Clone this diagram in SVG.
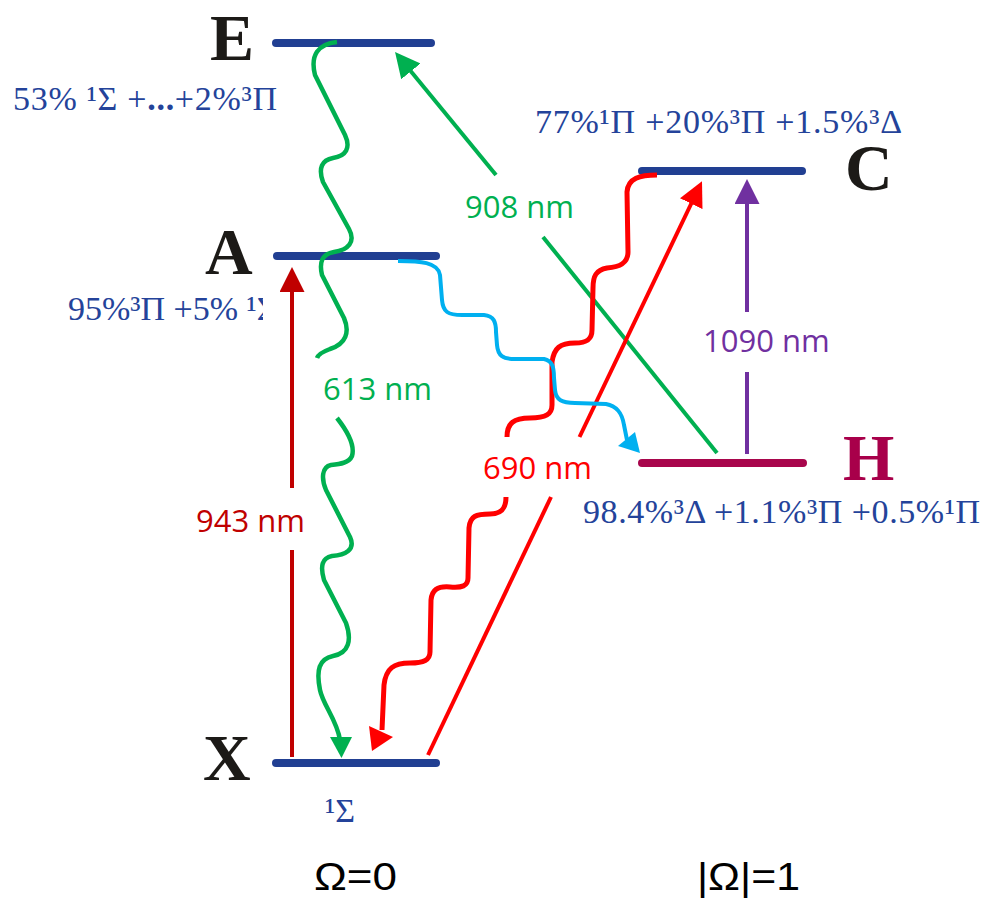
<svg xmlns="http://www.w3.org/2000/svg" width="988" height="902" viewBox="0 0 988 902">
<style>
.lvl{stroke:#213f92;stroke-width:8;stroke-linecap:round;fill:none}
.lvlH{stroke:#a8064c;stroke-width:8;stroke-linecap:round;fill:none}
.big{font-family:"Liberation Serif","Times New Roman",serif;font-weight:bold;font-size:66px;fill:#1c1a17}
.comp{font-family:"Liberation Serif","Times New Roman",serif;font-size:34px;fill:#24439a}
.lab{font-family:"Open Sans","Noto Sans",sans-serif;font-size:31px}
.om{font-family:"Liberation Sans",Arial,sans-serif;font-size:38px;fill:#000}
.w{fill:none;stroke-linecap:butt;stroke-linejoin:round}
.g{stroke:#00b050}.r{stroke:#ff0000}.dr{stroke:#c00000}.p{stroke:#7030a0}.b{stroke:#00b0f0}
</style>
<defs>
<clipPath id="clipA"><rect x="0" y="280" width="263" height="60"/></clipPath>
<marker id="mDR" markerUnits="userSpaceOnUse" markerWidth="26" markerHeight="26" refX="3" refY="12.5" orient="auto"><path d="M0,0 L25,12.5 L0,25 z" fill="#c00000"/></marker>
<marker id="mP" markerUnits="userSpaceOnUse" markerWidth="26" markerHeight="26" refX="3" refY="12.5" orient="auto"><path d="M0,0 L25,12.5 L0,25 z" fill="#7030a0"/></marker>
<marker id="mG" markerUnits="userSpaceOnUse" markerWidth="26" markerHeight="26" refX="3" refY="12.5" orient="auto"><path d="M0,0 L25,12.5 L0,25 z" fill="#00b050"/></marker>
<marker id="mR" markerUnits="userSpaceOnUse" markerWidth="26" markerHeight="26" refX="3" refY="12.5" orient="auto"><path d="M0,0 L25,12.5 L0,25 z" fill="#ff0000"/></marker>
</defs>
<rect width="988" height="902" fill="#fff"/>

<g id="level-E">
<line class="lvl" x1="276" y1="43" x2="431" y2="43"/>
<text class="big" x="210" y="60">E</text>
<text class="comp" x="13" y="110" textLength="264" lengthAdjust="spacing">53% ¹Σ +<tspan font-weight="bold">...</tspan>+2%³Π</text>
</g>
<g id="level-A">
<line class="lvl" x1="277" y1="256" x2="436" y2="256"/>
<text class="big" x="205" y="274">A</text>
<text class="comp" x="68" y="320" clip-path="url(#clipA)">95%³Π +5% ¹Σ</text>
</g>
<g id="level-X">
<line class="lvl" x1="276" y1="763" x2="436" y2="763"/>
<text class="big" x="203" y="780">X</text>
<text class="comp" x="325" y="822">¹Σ</text>
</g>
<g id="level-C">
<line class="lvl" x1="642" y1="171" x2="802" y2="171"/>
<text class="big" x="845" y="190">C</text>
<text class="comp" x="535" y="133" textLength="367" lengthAdjust="spacing">77%¹Π +20%³Π +1.5%³Δ</text>
</g>
<g id="level-H">
<line class="lvlH" x1="642" y1="463" x2="803" y2="463"/>
<text class="big" x="843" y="480" style="fill:#a8004a">H</text>
<text class="comp" x="583" y="523" textLength="397" lengthAdjust="spacing">98.4%³Δ +1.1%³Π +0.5%¹Π</text>
</g>

<g id="connectors">
<line class="w dr" stroke-width="4" x1="292" y1="757" x2="292" y2="550"/>
<line class="w dr" stroke-width="4" x1="292" y1="488" x2="292" y2="289" marker-end="url(#mDR)"/>
<text class="lab" x="196" y="532" fill="#c00000">943 nm</text>

<line class="w p" stroke-width="4" x1="747" y1="454" x2="747" y2="372"/>
<line class="w p" stroke-width="4" x1="747" y1="312" x2="747" y2="201" marker-end="url(#mP)"/>
<text class="lab" x="703" y="352" fill="#7030a0">1090 nm</text>

<line class="w g" stroke-width="4" x1="717" y1="453" x2="543" y2="237"/>
<line class="w g" stroke-width="4" x1="496" y1="175" x2="409" y2="69" marker-end="url(#mG)"/>
<text class="lab" x="465" y="218" fill="#00b050">908 nm</text>

<line class="w r" stroke-width="4" x1="428" y1="755" x2="551" y2="497"/>
<line class="w r" stroke-width="4" x1="579.5" y1="437" x2="692.5" y2="201" marker-end="url(#mR)"/>
<text class="lab" x="483" y="479" fill="#ff0000">690 nm</text>

<path class="w g" stroke-width="4.5" d="M337,42 C318,44 310,55 315,75 L345,135 C351,148 346,156 333,158 C322,160 318,168 323,182 L349,229 C356,242 348,250 334,252 C322,254 319,262 322,275 L344,318 C350,332 346,344 330,349 C322,352 318,355 317,358"/>
<path class="w g" stroke-width="4.5" d="M337,418 C348,432 355,446 352,456 C349,463 340,464 331,465 C322,467 321,478 326,490 L350,537 C356,550 345,555 332,556 C322,558 320,566 324,580 L346,623 C352,640 349,653 333,656 C319,659 316,670 320,690 C323,705 337,720 340,740"/>
<polygon points="330,737 352,737 341.5,758" fill="#00b050"/>
<text class="lab" x="323" y="400" fill="#00b050">613 nm</text>

<path class="w r" stroke-width="5" d="M657,175 C640,175 628,178 627,192 L628,252 C628,263 620,267 607,268 C596,270 593,276 593,288 L592,330 C592,340 586,343 575,343 C560,343 554,348 552,362 L552,405 C552,414 546,418 530,418 C514,418 507,423 507,437"/>
<path class="w r" stroke-width="5" d="M506,497 C506,510 500,514 490,514 C476,514 470,516 469,528 L468,578 C468,586 462,588 450,587 C437,586 432,590 431,600 L430,652 C430,660 424,663 410,663 C394,663 386,668 384,685 L382,730"/>
<polygon points="369,726 393,737 372,751" fill="#ff0000"/>

<path class="w b" stroke-width="4" d="M398,261 C420,261 438,262 440,275 L442,300 C443,312 448,315 462,315 L484,315 C494,316 496,322 496,332 L497,345 C498,356 503,359 515,359 L544,359 C552,361 554,366 554,378 L555,390 C556,400 562,403 575,403 L606,404 C617,406 622,413 624,425 L627,440"/>
<polygon points="618,446 635,432 640,453" fill="#00b0f0"/>
</g>

<text class="om" x="314" y="890" textLength="83" lengthAdjust="spacingAndGlyphs">Ω=0</text>
<text class="om" x="697" y="890" textLength="103" lengthAdjust="spacingAndGlyphs">|Ω|=1</text>
</svg>
